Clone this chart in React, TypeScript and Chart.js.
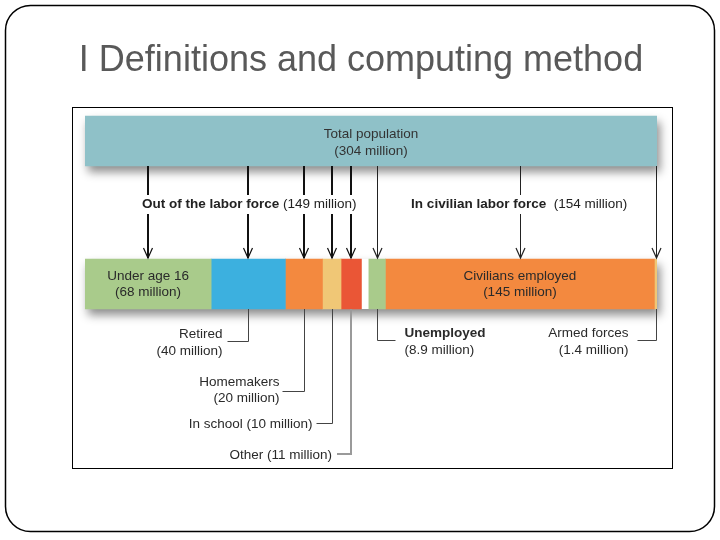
import React, { useEffect, useRef } from "react";
import { Chart, registerables } from "chart.js";

Chart.register(...registerables);

const titleText = "I Definitions and computing method";
const rowLabels = ["Total population", "Population breakdown"];
const totalLabel = "Total population";
const totalValue = 304;
const outGroupLabel = "Out of the labor force";
const outLabels = ["Under age 16", "Retired", "Homemakers", "In school", "Other"];
const outValues = [68, 40, 20, 10, 11];
const laborGroupLabel = "In civilian labor force";
const laborLabels = ["Unemployed", "Civilians employed", "Armed forces"];
const laborValues = [8.9, 145, 1.4];
const gapValue = 4;

const totalColor = "#8fc1c8";
const outColors = ["#a9cb8b", "#3cb0df", "#f3893f", "#f0c776", "#ea5636"];
const laborColors = ["#a9cb8b", "#f3893f", "#f0c776"];

const FONT = '"Liberation Sans", Arial, Helvetica, sans-serif';
const FS = "13.5px";

const sum = (a: number[]) => a.reduce((s, v) => s + v, 0);

const annotPlugin = {
  id: "annot",
  beforeDraw(chart: any) {
    const ctx = chart.ctx as CanvasRenderingContext2D;
    ctx.save();
    ctx.strokeStyle = "#000";
    ctx.lineWidth = 1.5;
    ctx.beginPath();
    (ctx as any).roundRect(5.5, 5.5, 709, 526, 25);
    ctx.stroke();
    ctx.fillStyle = "#595959";
    ctx.font = `36px ${FONT}`;
    ctx.textAlign = "center";
    ctx.textBaseline = "middle";
    ctx.fillText(titleText, 361, 61);
    ctx.lineWidth = 1;
    ctx.strokeStyle = "#000";
    ctx.strokeRect(72.5, 107.5, 600, 361);
    ctx.restore();
  },
  beforeDatasetsDraw(chart: any) {
    const ctx = chart.ctx as CanvasRenderingContext2D;
    const top = chart.getDatasetMeta(0).data[0];
    const firstBot = chart.getDatasetMeta(1).data[1];
    const lastBot = chart.getDatasetMeta(chart.data.datasets.length - 1).data[1];
    const rects = [
      [top.base, top.y - top.height / 2, top.x - top.base, top.height],
      [firstBot.base, firstBot.y - firstBot.height / 2, lastBot.x - firstBot.base, firstBot.height],
    ];
    ctx.save();
    ctx.shadowColor = "rgba(0,0,0,0.45)";
    ctx.shadowBlur = 9;
    ctx.shadowOffsetX = 3;
    ctx.shadowOffsetY = 6;
    ctx.fillStyle = "#fff";
    rects.forEach((r) => ctx.fillRect(r[0], r[1], r[2], r[3]));
    ctx.restore();
  },
  afterDatasetsDraw(chart: any) {
    const ctx = chart.ctx as CanvasRenderingContext2D;
    const topEl = chart.getDatasetMeta(0).data[0];
    const topBottom = topEl.y + topEl.height / 2;
    const nOut = outValues.length;
    const outEls = outValues.map((_, i) => chart.getDatasetMeta(1 + i).data[1]);
    const laborEls = laborValues.map((_, i) => chart.getDatasetMeta(2 + nOut + i).data[1]);
    const botTop = outEls[0].y - outEls[0].height / 2;
    const botBottom = outEls[0].y + outEls[0].height / 2;
    const botMid = outEls[0].y;
    const cx = (el: any) => (el.x + el.base) / 2;

    ctx.save();
    ctx.textBaseline = "middle";

    ctx.fillStyle = "#333";
    ctx.font = `${FS} ${FONT}`;
    ctx.textAlign = "center";
    const tcx = (topEl.x + topEl.base) / 2;
    ctx.fillText(totalLabel, tcx, topEl.y - 7);
    ctx.fillText(`(${totalValue} million)`, tcx, topEl.y + 10);

    const drawArrow = (x: number, w: number, color: string) => {
      ctx.strokeStyle = color;
      ctx.lineWidth = w;
      ctx.beginPath();
      ctx.moveTo(x, topBottom);
      ctx.lineTo(x, botTop - 1);
      ctx.stroke();
      ctx.lineWidth = 1.2;
      ctx.beginPath();
      ctx.moveTo(x - 4.5, botTop - 11);
      ctx.lineTo(x, botTop - 1);
      ctx.lineTo(x + 4.5, botTop - 11);
      ctx.stroke();
    };
    outEls.forEach((el) => drawArrow(Math.round(cx(el)), 2, "#111"));
    laborEls.forEach((el) => drawArrow(Math.round(cx(el)) + 0.5, 1, "#222"));

    const groupY = 204;
    const drawGroup = (x: number, bold: string, normal: string, gap: string) => {
      ctx.textAlign = "left";
      ctx.font = `bold ${FS} ${FONT}`;
      const w1 = ctx.measureText(bold).width;
      ctx.font = `${FS} ${FONT}`;
      const w2 = ctx.measureText(gap + normal).width;
      ctx.fillStyle = "#fff";
      ctx.fillRect(x - 3, groupY - 9, w1 + w2 + 6, 19);
      ctx.fillStyle = "#222";
      ctx.font = `bold ${FS} ${FONT}`;
      ctx.fillText(bold, x, groupY);
      ctx.font = `${FS} ${FONT}`;
      ctx.fillText(gap + normal, x + w1, groupY);
    };
    drawGroup(chart.chartArea.left + 57, outGroupLabel, `(${sum(outValues)} million)`, " ");
    drawGroup(cx(laborEls[0]) + 34, laborGroupLabel, `(${Math.round(laborValues[0] + laborValues[1])} million)`, "  ");

    ctx.fillStyle = "#2a2a2a";
    ctx.textAlign = "center";
    ctx.font = `${FS} ${FONT}`;
    ctx.fillText(outLabels[0], cx(outEls[0]), botMid - 8);
    ctx.fillText(`(${outValues[0]} million)`, cx(outEls[0]), botMid + 8);
    ctx.fillText(laborLabels[1], cx(laborEls[1]), botMid - 8);
    ctx.fillText(`(${laborValues[1]} million)`, cx(laborEls[1]), botMid + 8);

    const bracket = (x: number, y: number, x2: number, color: string, w: number) => {
      ctx.strokeStyle = color;
      ctx.lineWidth = w;
      ctx.beginPath();
      ctx.moveTo(x, botBottom);
      ctx.lineTo(x, y);
      ctx.lineTo(x2, y);
      ctx.stroke();
    };
    const txt = (s: string, x: number, y: number, align: CanvasTextAlign, bold = false) => {
      ctx.font = `${bold ? "bold " : ""}${FS} ${FONT}`;
      ctx.textAlign = align;
      ctx.fillStyle = "#2a2a2a";
      ctx.fillText(s, x, y);
    };
    let x = Math.round(cx(outEls[1])) + 0.5;
    bracket(x, 341.5, x - 21, "#444", 1);
    txt(outLabels[1], x - 26, 334, "right");
    txt(`(${outValues[1]} million)`, x - 26, 351, "right");
    x = Math.round(cx(outEls[2])) + 0.5;
    bracket(x, 391.5, x - 22, "#444", 1);
    txt(outLabels[2], x - 25, 382, "right");
    txt(`(${outValues[2]} million)`, x - 25, 398, "right");
    x = Math.round(cx(outEls[3])) + 0.5;
    bracket(x, 423.5, x - 16, "#444", 1);
    txt(`${outLabels[3]} (${outValues[3]} million)`, x - 20, 424, "right");
    x = Math.round(cx(outEls[4]));
    bracket(x, 454, x - 14, "#9a9a9a", 2);
    txt(`${outLabels[4]} (${outValues[4]} million)`, x - 19, 455, "right");
    x = Math.round(cx(laborEls[0])) + 0.5;
    bracket(x, 340.5, x + 18, "#444", 1);
    txt(laborLabels[0], x + 27, 333, "left", true);
    txt(`(${laborValues[0]} million)`, x + 27, 350, "left");
    x = Math.round(cx(laborEls[2])) + 0.5;
    bracket(x, 340.5, x - 19, "#444", 1);
    txt(laborLabels[2], x - 28, 333, "right");
    txt(`(${laborValues[2]} million)`, x - 28, 350, "right");

    ctx.restore();
  },
};

export default function App() {
  const ref = useRef<HTMLCanvasElement | null>(null);
  useEffect(() => {
    if (!ref.current) return;
    const datasets: any[] = [];
    datasets.push({
      label: totalLabel,
      data: [totalValue, null],
      backgroundColor: totalColor,
      xAxisID: "xTop",
    });
    outValues.forEach((v, i) =>
      datasets.push({
        label: outLabels[i],
        data: [null, v],
        backgroundColor: outColors[i],
        xAxisID: "xBot",
      })
    );
    datasets.push({
      label: "gap",
      data: [null, gapValue],
      backgroundColor: "rgba(0,0,0,0)",
      xAxisID: "xBot",
    });
    laborValues.forEach((v, i) =>
      datasets.push({
        label: laborLabels[i],
        data: [null, v],
        backgroundColor: laborColors[i],
        xAxisID: "xBot",
      })
    );
    const chart = new Chart(ref.current, {
      type: "bar",
      data: { labels: rowLabels, datasets },
      options: {
        indexAxis: "y",
        responsive: false,
        animation: false,
        barThickness: 50,
        layout: { padding: { left: 85, right: 63, top: 69.5, bottom: 184.5 } },
        plugins: { legend: { display: false }, title: { display: false }, tooltip: { enabled: false } },
        scales: {
          y: { type: "category", display: false, stacked: true, offset: true },
          xTop: { type: "linear", axis: "x", position: "bottom", display: false, stacked: true, min: 0, max: totalValue },
          xBot: {
            type: "linear",
            axis: "x",
            position: "bottom",
            display: false,
            stacked: true,
            min: 0,
            max: sum(outValues) + gapValue + sum(laborValues),
          },
        },
      } as any,
      plugins: [annotPlugin],
    });
    return () => chart.destroy();
  }, []);
  return (
    <div style={{ position: "fixed", left: 0, top: 0, width: 720, height: 540, background: "#fff" }}>
      <canvas ref={ref} width={720} height={540} style={{ display: "block" }} />
    </div>
  );
}
